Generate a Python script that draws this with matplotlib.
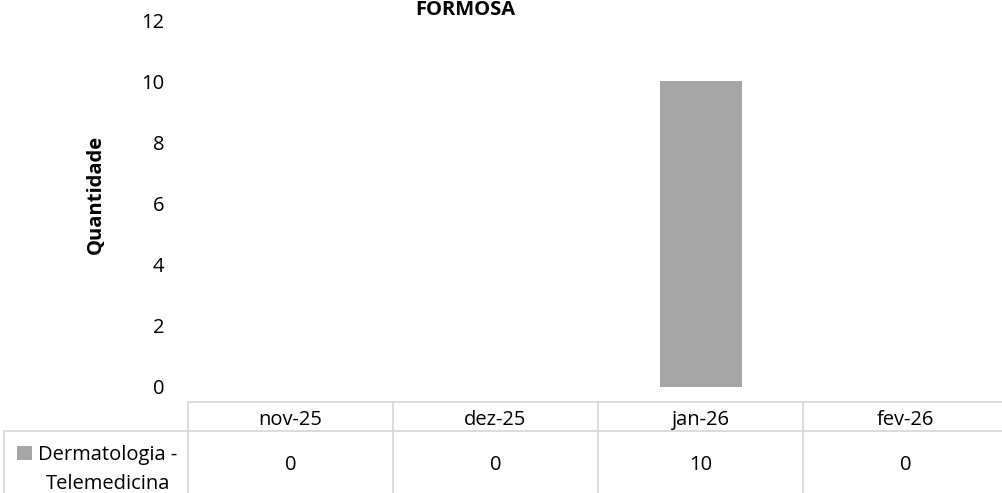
import matplotlib.pyplot as plt
from matplotlib.patches import Rectangle

# dados
meses = ['nov-25', 'dez-25', 'jan-26', 'fev-26']
serie_nome = 'Dermatologia -\nTelemedicina'
valores = [0, 0, 10, 0]
titulo = 'FORMOSA'
cor_barra = '#a5a5a5'
cor_grade = '#d9d9d9'

plt.rcParams['font.family'] = ['Open Sans', 'DejaVu Sans']
FS = 14.5

W, H = 1003, 493
fig = plt.figure(figsize=(W / 100, H / 100), dpi=100)


def px(x, y):
    """pixel -> coordenadas da figura"""
    return x / W, 1 - y / H


# area do grafico: x 188..1008, y 20..387
ax = fig.add_axes([188 / W, 1 - 387 / H, (1008 - 188) / W, (387 - 20) / H])
ax.bar(range(len(meses)), valores, width=0.4, color=cor_barra)
ax.set_xlim(-0.5, len(meses) - 0.5)
ax.set_ylim(0, 12)
ax.set_yticks(range(0, 13, 2))
ax.set_xticks([])
for s in ax.spines.values():
    s.set_visible(False)
ax.tick_params(axis='y', length=0, pad=17, labelsize=FS, labelcolor='#000000')

# titulo e rotulo do eixo
fig.text(*px(465, 15), titulo, ha='center', va='baseline', fontsize=FS, fontweight='bold')
fig.text(*px(96, 194), 'Quantidade', ha='center', va='center', rotation=90,
         fontsize=FS, fontweight='bold')

# tabela de dados abaixo do grafico
col_w = 205
x0 = 188
y_top, y_mid, y_bot = 402, 431, 500
lw = 1.3
# linhas horizontais
fig.add_artist(plt.Line2D([px(x0, 0)[0], px(1010, 0)[0]], [px(0, y_top)[1]] * 2, color=cor_grade, lw=lw))
fig.add_artist(plt.Line2D([px(4, 0)[0], px(1010, 0)[0]], [px(0, y_mid)[1]] * 2, color=cor_grade, lw=lw))
# linhas verticais
fig.add_artist(plt.Line2D([px(4, 0)[0]] * 2, [px(0, y_mid)[1], px(0, y_bot)[1]], color=cor_grade, lw=lw))
for k in range(len(meses) + 1):
    xx = px(x0 + k * col_w, 0)[0]
    fig.add_artist(plt.Line2D([xx, xx], [px(0, y_top)[1], px(0, y_bot)[1]], color=cor_grade, lw=lw))

for k, (m, v) in enumerate(zip(meses, valores)):
    cx = x0 + (k + 0.5) * col_w
    fig.text(*px(cx, 425), m, ha='center', va='baseline', fontsize=FS)
    fig.text(*px(cx, 470), str(v), ha='center', va='baseline', fontsize=FS)

# legenda da serie
fig.add_artist(Rectangle(px(17, 460), 15 / W, 14 / H, transform=fig.transFigure,
                         color=cor_barra, lw=0))
for i, linha in enumerate(serie_nome.split('\n')):
    fig.text(*px(108, 460 + 29 * i), linha, ha='center', va='baseline', fontsize=FS)

fig.savefig('out.png', dpi=100)
